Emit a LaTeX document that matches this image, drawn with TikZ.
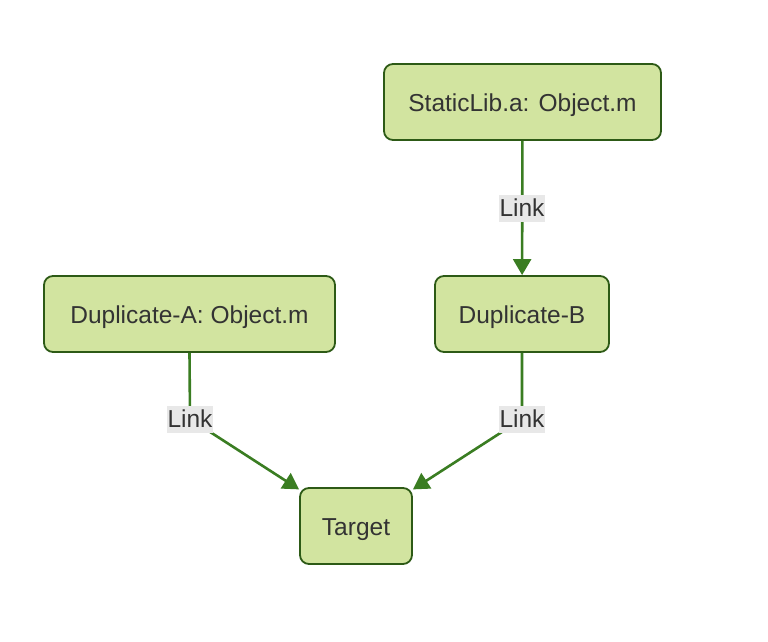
\documentclass[tikz,border=0pt]{standalone}
\usepackage{fontspec}
\setmainfont{Liberation Sans}
\usetikzlibrary{arrows.meta}
\definecolor{boxfill}{RGB}{210,228,160}
\definecolor{boxline}{RGB}{45,90,22}
\definecolor{edgecol}{RGB}{58,125,34}
\definecolor{txt}{RGB}{51,51,51}
\definecolor{lblbg}{RGB}{232,232,232}
\begin{document}
\begin{tikzpicture}[x=1pt,y=-1pt,
  box/.style={draw=boxline, line width=1.8pt, fill=boxfill, rounded corners=9pt,
    minimum height=76pt, inner sep=0pt, text=txt, text height=18.5pt, text depth=0.5pt,
    font=\fontsize{24.5}{29}\selectfont},
  lbl/.style={fill=lblbg, text=txt, inner xsep=0.5pt, inner ysep=0pt, minimum height=27pt,
    font=\fontsize{24.5}{29}\selectfont},
  edge/.style={draw=edgecol, line width=2.6pt, -{Triangle[length=16pt,width=18pt]}}]
\useasboundingbox (0,0) rectangle (768,642);
\node[box, minimum width=277pt] (S) at (522.5,102) {StaticLib.a: Object.m};
\node[box, minimum width=291pt] (A) at (189.5,314) {Duplicate-A: Object.m};
\node[box, minimum width=174pt] (B) at (522,314) {Duplicate-B};
\node[box, minimum width=112pt] (T) at (356,526) {Target};
\coordinate (ks) at (522,208);
\coordinate (ka) at (190,419);
\coordinate (kb) at (522,419);
\draw[edge] (S) -- (B);
\draw[edge] (A.south) -- (ka) -- (T);
\draw[edge] (B.south) -- (kb) -- (T);
\node[lbl] (ls) at (ks) {Link};
\node[lbl] (la) at (ka) {Link};
\node[lbl] (lb) at (kb) {Link};
\end{tikzpicture}
\end{document}
